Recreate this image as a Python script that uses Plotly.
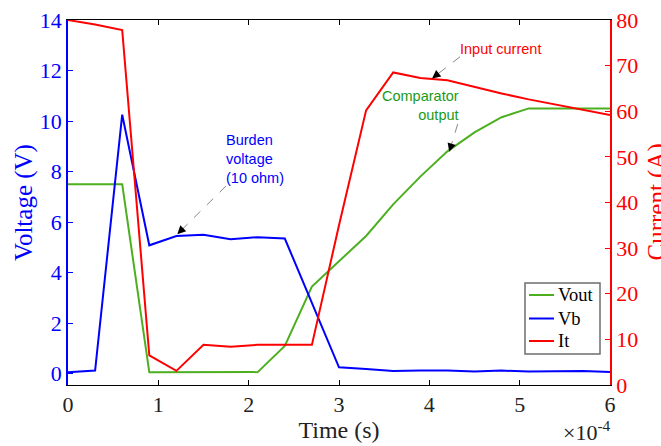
import plotly.graph_objects as go

# time in seconds
time_s = [0.0, 0.3e-4, 0.6e-4, 0.9e-4, 1.2e-4, 1.5e-4, 1.8e-4, 2.1e-4, 2.4e-4, 2.7e-4,
          3.0e-4, 3.3e-4, 3.6e-4, 3.9e-4, 4.2e-4, 4.5e-4, 4.8e-4, 5.1e-4, 5.4e-4, 5.7e-4, 6.0e-4]
vout = [7.5, 7.5, 7.5, 0.05, 0.05, 0.06, 0.06, 0.06, 1.1, 3.45,
        4.45, 5.45, 6.7, 7.8, 8.8, 9.55, 10.15, 10.5, 10.5, 10.5, 10.5]
vb = [0.05, 0.12, 10.25, 5.08, 5.45, 5.5, 5.32, 5.4, 5.35, 2.8,
      0.25, 0.18, 0.1, 0.12, 0.12, 0.08, 0.12, 0.08, 0.1, 0.1, 0.06]
it = [80, 79, 77.8, 6.5, 3.1, 8.8, 8.4, 8.8, 8.8, 8.8,
      35, 60.2, 68.5, 67.3, 66.8, 65.3, 63.9, 62.6, 61.5, 60.4, 59.2]

series_names = ["Vout", "Vb", "It"]

x_tickvals = [0, 1e-4, 2e-4, 3e-4, 4e-4, 5e-4, 6e-4]
x_ticktext = ["0", "1", "2", "3", "4", "5", "6"]
left_ticks = [0, 2, 4, 6, 8, 10, 12, 14]
right_ticks = [0, 10, 20, 30, 40, 50, 60, 70, 80]

GREEN = "#4daf1f"
BLUE = "#0000ff"
RED = "#ff0000"
SERIF = "Liberation Serif"
SANS = "Liberation Sans"
colors = [GREEN, BLUE, RED]

fig = go.Figure()
fig.add_trace(go.Scatter(x=time_s, y=vout, name=series_names[0], mode="lines",
                         line=dict(color=GREEN, width=2), yaxis="y", showlegend=False))
fig.add_trace(go.Scatter(x=time_s, y=vb, name=series_names[1], mode="lines",
                         line=dict(color=BLUE, width=2), yaxis="y", showlegend=False))
fig.add_trace(go.Scatter(x=time_s, y=it, name=series_names[2], mode="lines",
                         line=dict(color=RED, width=2), yaxis="y2", showlegend=False))

fig.update_layout(
    width=661, height=446,
    margin=dict(l=68, r=51, t=20, b=61),
    plot_bgcolor="white", paper_bgcolor="white",
    font=dict(family=SERIF, size=20, color="black"),
    xaxis=dict(range=[0, 6e-4], tickvals=x_tickvals, ticktext=x_ticktext,
               ticks="inside", ticklen=5, tickcolor="black", automargin=False,
               showline=True, linecolor="black", linewidth=1, mirror="ticks",
               showgrid=False, zeroline=False,
               tickfont=dict(family=SERIF, size=22, color="#222222"),
               title=dict(text="Time (s)", font=dict(family=SERIF, size=24, color="#222222"),
                          standoff=2)),
    yaxis=dict(range=[-0.45, 14], tickvals=left_ticks, automargin=False,
               ticks="inside", ticklen=5, tickcolor=BLUE,
               showline=True, linecolor=BLUE, linewidth=1.5,
               showgrid=False, zeroline=False,
               tickfont=dict(family=SERIF, size=22, color=BLUE),
               title=dict(text="Voltage (V)", font=dict(family=SERIF, size=25, color=BLUE),
                          standoff=0)),
    yaxis2=dict(range=[0, 80], tickvals=right_ticks, overlaying="y", side="right",
                ticks="inside", ticklen=5, tickcolor=RED, automargin=False,
                showline=True, linecolor=RED, linewidth=1.5,
                showgrid=False, zeroline=False,
                tickfont=dict(family=SERIF, size=22, color=RED)),
)

# ---- pixel helpers (plot area is 542 x 365 px, origin at left=68, bottom=385) ----
PW, PH, PL, PB = 542.0, 365.0, 68.0, 385.0


def px_x(px):
    return (px - PL) / PW


def px_y(py):
    return (PB - py) / PH


# right axis title, pushed toward the edge like the reference
fig.add_annotation(x=px_x(640), y=0.5, xref="paper", yref="paper",
                   xanchor="left", yanchor="middle", textangle=-90,
                   text="Current (A)", showarrow=False,
                   font=dict(family=SERIF, size=25, color=RED))

# ---- legend drawn as a boxed key ----
fig.add_shape(type="rect", xref="paper", yref="paper",
              x0=px_x(525), x1=px_x(600), y0=px_y(354), y1=px_y(283),
              line=dict(color="#6e6e6e", width=1.5), fillcolor="white", layer="above")
row_y = [295, 318.5, 341]
for name, col, ry in zip(series_names, colors, row_y):
    fig.add_shape(type="line", xref="paper", yref="paper",
                  x0=px_x(529), x1=px_x(554), y0=px_y(ry), y1=px_y(ry),
                  line=dict(color=col, width=2), layer="above")
    fig.add_annotation(x=px_x(556), y=px_y(ry), xref="paper", yref="paper",
                       xanchor="left", yanchor="middle", text=name, showarrow=False,
                       font=dict(family=SERIF, size=18.5, color="black"))

DASH_COLOR = "#888888"


def callout(x_tail, y_tail, x_head, y_head, yref):
    # dashed shaft
    fig.add_shape(type="line", xref="x", yref=yref,
                  x0=x_tail, y0=y_tail, x1=x_head, y1=y_head,
                  line=dict(color=DASH_COLOR, width=1, dash="dash"))
    # black arrowhead
    fig.add_annotation(x=x_head, y=y_head, xref="x", yref=yref,
                       ax=x_head + (x_tail - x_head) * 0.15,
                       ay=y_head + (y_tail - y_head) * 0.15,
                       axref="x", ayref=yref, text="", showarrow=True,
                       arrowhead=2, arrowsize=1.4, arrowwidth=1.2, arrowcolor="black")


# Burden voltage
callout(1.749e-4, 7.43, 1.21e-4, 5.52, "y")
fig.add_annotation(x=1.73e-4, y=8.5, xref="x", yref="y", xanchor="left", yanchor="middle",
                   text="Burden<br>voltage<br>(10 ohm)", showarrow=False, align="left",
                   font=dict(family=SANS, size=14.5, color=BLUE))
# Input current
callout(4.34e-4, 71.95, 4.03e-4, 67.2, "y2")
fig.add_annotation(x=4.32e-4, y=73.6, xref="x", yref="y2", xanchor="left", yanchor="middle",
                   text="Input current", showarrow=False,
                   font=dict(family=SANS, size=14.5, color=RED))
# Comparator output
callout(4.314e-4, 9.88, 4.22e-4, 8.78, "y")
fig.add_annotation(x=4.355e-4, y=10.62, xref="x", yref="y", xanchor="right", yanchor="middle",
                   text="Comparator<br>output", showarrow=False, align="right",
                   font=dict(family=SANS, size=14.5, color="#1a9a1a"))

# x10^-4 multiplier
fig.add_annotation(x=px_x(613), y=-0.17, xref="paper", yref="paper", xanchor="right",
                   yanchor="bottom", text="×10<sup>-4</sup>", showarrow=False,
                   font=dict(family=SERIF, size=22, color="#222222"))

fig.write_html("out.html")
